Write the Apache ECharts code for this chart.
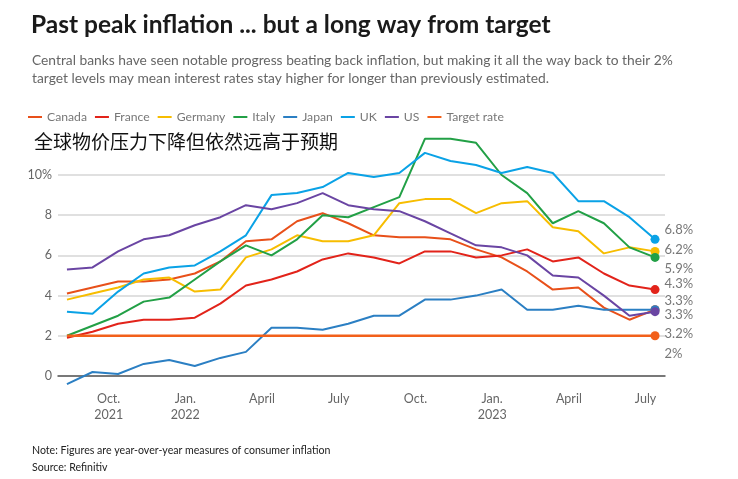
<!DOCTYPE html>
<html>
<head>
<meta charset="utf-8">
<script src="https://cdn.jsdelivr.net/npm/echarts@6/dist/echarts.min.js"></script>
<style>
  html, body { margin: 0; padding: 0; background: #fff; }
  #chart { width: 738px; height: 479px; }
</style>
</head>
<body>
<div id="chart"></div>
<script>
// monthly readings, Aug 2021 .. July 2023 (year-over-year %)
const months = ['2021-08','2021-09','2021-10','2021-11','2021-12','2022-01','2022-02','2022-03','2022-04','2022-05','2022-06','2022-07',
                '2022-08','2022-09','2022-10','2022-11','2022-12','2023-01','2023-02','2023-03','2023-04','2023-05','2023-06','2023-07'];
const canada  = [4.1, 4.4, 4.7, 4.7, 4.8, 5.1, 5.7, 6.7, 6.8, 7.7, 8.1, 7.6, 7.0, 6.9, 6.9, 6.8, 6.3, 5.9, 5.2, 4.3, 4.4, 3.4, 2.8, 3.3];
const france  = [1.9, 2.2, 2.6, 2.8, 2.8, 2.9, 3.6, 4.5, 4.8, 5.2, 5.8, 6.1, 5.9, 5.6, 6.2, 6.2, 5.9, 6.0, 6.3, 5.7, 5.9, 5.1, 4.5, 4.3];
const germany = [3.8, 4.1, 4.4, 4.8, 4.9, 4.2, 4.3, 5.9, 6.3, 7.0, 6.7, 6.7, 7.0, 8.6, 8.8, 8.8, 8.1, 8.6, 8.7, 7.4, 7.2, 6.1, 6.4, 6.2];
const italy   = [2.0, 2.5, 3.0, 3.7, 3.9, 4.8, 5.7, 6.5, 6.0, 6.8, 8.0, 7.9, 8.4, 8.9, 11.8, 11.8, 11.6, 10.0, 9.1, 7.6, 8.2, 7.6, 6.4, 5.9];
const japan   = [-0.4, 0.2, 0.1, 0.6, 0.8, 0.5, 0.9, 1.2, 2.4, 2.4, 2.3, 2.6, 3.0, 3.0, 3.8, 3.8, 4.0, 4.3, 3.3, 3.3, 3.5, 3.3, 3.3, 3.3];
const uk      = [3.2, 3.1, 4.2, 5.1, 5.4, 5.5, 6.2, 7.0, 9.0, 9.1, 9.4, 10.1, 9.9, 10.1, 11.1, 10.7, 10.5, 10.1, 10.4, 10.1, 8.7, 8.7, 7.9, 6.8];
const us      = [5.3, 5.4, 6.2, 6.8, 7.0, 7.5, 7.9, 8.5, 8.3, 8.6, 9.1, 8.5, 8.3, 8.2, 7.7, 7.1, 6.5, 6.4, 6.0, 5.0, 4.9, 4.0, 3.0, 3.2];
const target  = [2, 2, 2, 2, 2, 2, 2, 2, 2, 2, 2, 2, 2, 2, 2, 2, 2, 2, 2, 2, 2, 2, 2, 2];

const seriesNames = ['Canada', 'France', 'Germany', 'Italy', 'Japan', 'UK', 'US', 'Target rate'];
const seriesValues = [canada, france, germany, italy, japan, uk, us, target];
const endTexts = ['3.3%', '4.3%', '6.2%', '5.9%', '3.3%', '6.8%', '3.2%', '2%'];

// x tick labels (month index into `months`)
const tickIndex = [2, 5, 8, 11, 14, 17, 20, 23];
const tickLabels = ['Oct.\n2021', 'Jan.\n2022', 'April', 'July', 'Oct.', 'Jan.\n2023', 'April', 'July'];

const colors = ['#e8501a', '#e2231a', '#f7bd00', '#22a046', '#2b7fc3', '#0aa2e6', '#6a45a3', '#f2601a'];
// vertical nudges (px) so the end labels stack like the original
const endNudge = [5, -6, -2, 11, -9, -10, 22, 18];

const FONT = 'Lato';
const LABEL_SHIFT = -0.37; // month labels sit a little left of the data points
const LAST = months.length - 1;

const option = {
    animation: false,
    color: colors,
    textStyle: { fontFamily: FONT },
    title: [
        {
            text: 'Past peak inflation ... but a long way from target',
            left: 26, top: 8,
            textStyle: { fontSize: 24.5, fontWeight: 'bold', color: '#1a1a1a', fontFamily: FONT }
        },
        {
            text: 'Central banks have seen notable progress beating back inflation, but making it all the way back to their 2%\ntarget levels may mean interest rates stay higher for longer than previously estimated.',
            left: 27, top: 47,
            textStyle: { fontSize: 13.8, fontWeight: 'normal', color: '#666', lineHeight: 18, fontFamily: FONT }
        },
        {
            text: '全球物价压力下降但依然远高于预期',
            left: 29, top: 127,
            textStyle: { fontSize: 19, fontWeight: 'normal', color: '#111', fontFamily: '"Noto Sans CJK SC"' }
        },
        {
            text: 'Note: Figures are year-over-year measures of consumer inflation\nSource: Refinitiv',
            left: 27, top: 437,
            textStyle: { fontSize: 10.6, fontWeight: 'normal', color: '#222', lineHeight: 17, fontFamily: FONT }
        }
    ],
    legend: {
        data: seriesNames,
        left: 23, top: 106,
        icon: 'rect',
        itemWidth: 14,
        itemHeight: 2,
        itemGap: 8,
        textStyle: { color: '#777', fontSize: 12.2, fontFamily: FONT }
    },
    grid: {
        left: 58,
        right: 73,
        top: 175,
        bottom: 103
    },
    xAxis: {
        type: 'value',
        min: -0.35,
        max: 23.39,
        splitLine: { show: false },
        axisTick: { show: false },
        axisLine: { show: true, lineStyle: { color: '#555', width: 1.5 } },
        axisLabel: {
            customValues: tickIndex.map(i => i + LABEL_SHIFT),
            formatter: function (value) {
                const k = tickIndex.findIndex(i => Math.abs(i + LABEL_SHIFT - value) < 0.01);
                return k >= 0 ? tickLabels[k] : '';
            },
            color: '#666',
            fontSize: 12.5,
            lineHeight: 16,
            margin: 15,
            fontFamily: FONT
        }
    },
    yAxis: {
        type: 'value',
        min: 0,
        max: 10,
        interval: 2,
        axisLine: { show: false },
        axisTick: { show: false },
        splitLine: { lineStyle: { color: '#d6d6d6', width: 1.5 } },
        axisLabel: {
            formatter: v => (v === 10 ? '10%' : String(v)),
            color: '#666',
            fontSize: 12.5,
            margin: 6,
            fontFamily: FONT
        }
    },
    series: seriesNames.map((name, s) => ({
        name: name,
        type: 'line',
        data: seriesValues[s].map((v, i) => [i, v]),
        clip: false,
        symbol: 'circle',
        symbolSize: (val, params) => (params.dataIndex === LAST ? 9 : 0),
        showSymbol: true,
        showAllSymbol: true,
        labelLayout: { hideOverlap: false, dy: endNudge[s] },
        label: {
            show: true,
            position: 'right',
            formatter: p => (p.dataIndex === LAST ? endTexts[s] : ''),
            color: '#777',
            fontSize: 13,
            fontStyle: 'normal',
            fontWeight: 'normal',
            fontFamily: FONT
        },
        lineStyle: { width: s === 7 ? 2.5 : 2 },
        itemStyle: { color: colors[s] },
        emphasis: { disabled: true }
    }))
};

const chart = echarts.init(document.getElementById('chart'));
chart.setOption(option);
</script>
</body>
</html>
